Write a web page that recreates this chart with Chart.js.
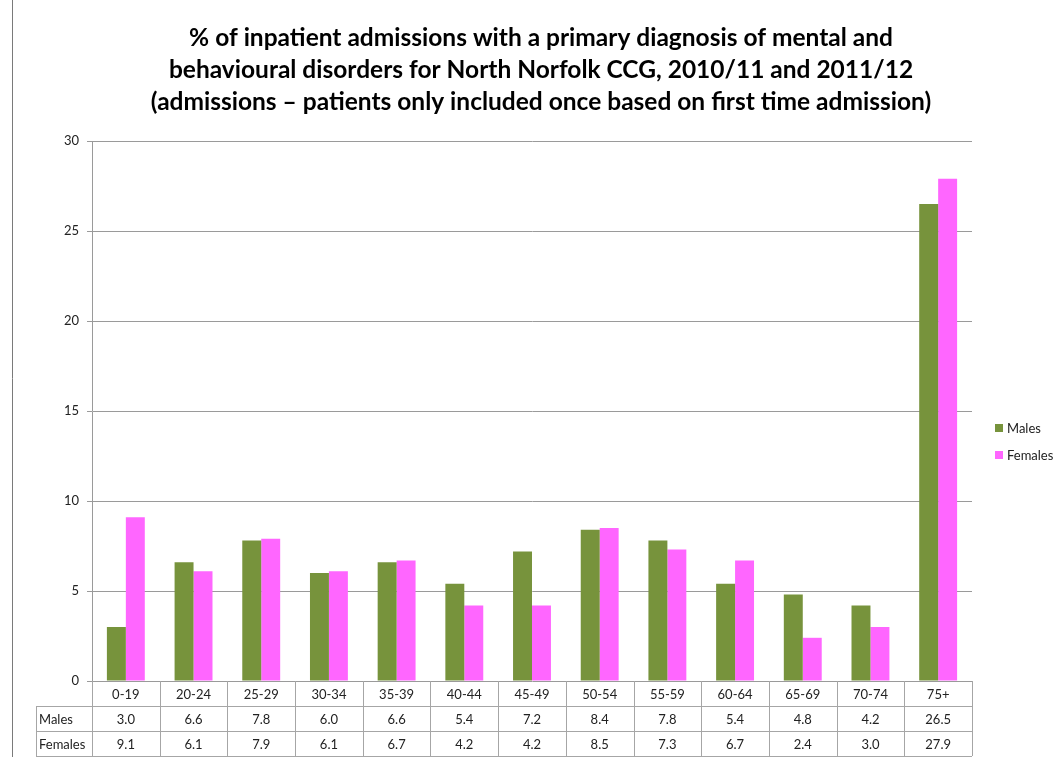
<!DOCTYPE html>
<html>
<head>
<meta charset="utf-8">
<script src="https://cdn.jsdelivr.net/npm/chart.js@4"></script>
<style>
html,body{margin:0;padding:0;background:#fff;}
#wrap{width:1057px;height:757px;position:relative;}
</style>
</head>
<body>
<div id="wrap"><canvas id="c" width="1057" height="757"></canvas></div>
<script>
const categories = ["0-19","20-24","25-29","30-34","35-39","40-44","45-49","50-54","55-59","60-64","65-69","70-74","75+"];
const males = [3.0,6.6,7.8,6.0,6.6,5.4,7.2,8.4,7.8,5.4,4.8,4.2,26.5];
const females = [9.1,6.1,7.9,6.1,6.7,4.2,4.2,8.5,7.3,6.7,2.4,3.0,27.9];
const seriesNames = ["Males","Females"];
const titleLines = [
  "% of inpatient admissions with a primary diagnosis of mental and",
  "behavioural disorders for North Norfolk CCG, 2010/11 and 2011/12",
  "(admissions \u2013 patients only included once based on first time admission)"
];
const yMin = 0, yMax = 30, yStep = 5;

const FONT = "Lato, 'Open Sans', sans-serif";
const maleColor = "#77933C";
const femaleColor = "#FF66FF";

const decorPlugin = {
  id: 'decor',
  afterDraw(chart) {
    const ctx = chart.ctx;
    const area = chart.chartArea;
    const xs = chart.scales.x;
    ctx.save();
    // left border line
    ctx.strokeStyle = '#7a7a7a';
    ctx.lineWidth = 1;
    ctx.beginPath(); ctx.moveTo(12.5, 0); ctx.lineTo(12.5, 757); ctx.stroke();

    // title
    ctx.fillStyle = '#000';
    ctx.font = "bold 24.5px " + FONT;
    ctx.textAlign = 'center';
    ctx.textBaseline = 'middle';
    const tcx = 541;
    titleLines.forEach((t, i) => ctx.fillText(t, tcx, 38 + i * 32));

    // data table
    const n = categories.length;
    const colW = (area.right - area.left) / n;
    const rowH = 25;
    const top = area.bottom;
    const labelLeft = 36;
    ctx.strokeStyle = '#a6a6a6';
    ctx.lineWidth = 1;
    ctx.beginPath();
    for (let r = 1; r <= 3; r++) {
      const y = Math.round(top + r * rowH) + 0.5;
      ctx.moveTo(labelLeft, y); ctx.lineTo(area.right, y);
    }
    for (let k = 0; k <= n; k++) {
      const x = Math.round(area.left + k * colW) + 0.5;
      ctx.moveTo(x, top); ctx.lineTo(x, top + 3 * rowH);
    }
    ctx.moveTo(labelLeft + 0.5, top + rowH); ctx.lineTo(labelLeft + 0.5, top + 3 * rowH);
    ctx.stroke();

    ctx.font = "13px " + FONT;
    ctx.fillStyle = '#222';
    ctx.textBaseline = 'middle';
    ctx.textAlign = 'center';
    categories.forEach((c, i) => {
      const cx = xs.getPixelForValue(i);
      ctx.fillText(c, cx, top + rowH * 0.5 + 1);
      ctx.fillText(males[i].toFixed(1), cx, top + rowH * 1.5 + 1);
      ctx.fillText(females[i].toFixed(1), cx, top + rowH * 2.5 + 1);
    });
    ctx.textAlign = 'left';
    ctx.fillText(seriesNames[0], 39, top + rowH * 1.5 + 1);
    ctx.fillText(seriesNames[1], 39, top + rowH * 2.5 + 1);

    // legend
    const legendItems = [[seriesNames[0], maleColor, 428], [seriesNames[1], femaleColor, 455]];
    legendItems.forEach(([name, col, y]) => {
      ctx.fillStyle = col;
      ctx.fillRect(995, y - 4, 8, 8);
      ctx.fillStyle = '#222';
      ctx.fillText(name, 1007, y + 1);
    });
    ctx.restore();
  }
};

new Chart(document.getElementById('c'), {
  type: 'bar',
  data: {
    labels: categories,
    datasets: [
      { label: seriesNames[0], data: males, backgroundColor: maleColor, borderWidth: 0, barPercentage: 1, categoryPercentage: 0.56 },
      { label: seriesNames[1], data: females, backgroundColor: femaleColor, borderWidth: 0, barPercentage: 1, categoryPercentage: 0.56 }
    ]
  },
  options: {
    responsive: false,
    animation: false,
    layout: { padding: { left: 12, right: 85, top: 141, bottom: 76 } },
    plugins: { legend: { display: false }, title: { display: false }, tooltip: { enabled: false } },
    scales: {
      x: { display: false },
      y: {
        min: yMin, max: yMax,
        afterFit(scale) { scale.width = 80; },
        ticks: { stepSize: yStep, padding: 8, color: '#222', font: { family: FONT, size: 13 } },
        grid: { color: '#9a9a9a', tickLength: 5, lineWidth: 1 },
        border: { color: '#9a9a9a' }
      }
    }
  },
  plugins: [decorPlugin]
});
</script>
</body>
</html>
